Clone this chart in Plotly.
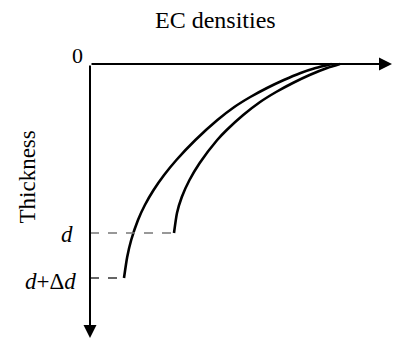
import plotly.graph_objects as go

# EC density (x) vs thickness (y, increasing downward), arbitrary units
curve1_density = [0.340, 0.372, 0.412, 0.480, 0.549, 0.636, 0.741, 0.864, 1.054, 1.274,
                  1.443, 1.603, 1.770, 1.938, 2.106, 2.256, 2.416]
curve1_thick   = [2.14, 1.93, 1.76, 1.56, 1.41, 1.26, 1.11, 0.96, 0.76, 0.56,
                  0.43, 0.33, 0.24, 0.16, 0.09, 0.04, 0.00]
curve2_density = [0.840, 0.870, 0.918, 0.995, 1.097, 1.272, 1.367, 1.532, 1.701, 1.861,
                  2.028, 2.196, 2.371, 2.499]
curve2_thick   = [1.69, 1.49, 1.33, 1.16, 0.99, 0.76, 0.66, 0.51, 0.38, 0.28,
                  0.19, 0.11, 0.04, 0.00]
d_level = 1.69
dd_level = 2.14
x_end = 3.02
y_end = 2.74

fig = go.Figure()
for xs, ys in [(curve1_density, curve1_thick), (curve2_density, curve2_thick)]:
    fig.add_trace(go.Scatter(x=xs, y=ys, mode="lines",
                             line=dict(color="black", width=2.6, shape="spline", smoothing=0.6),
                             hoverinfo="skip"))
# dashed guides
fig.add_trace(go.Scatter(x=[0, curve2_density[0]], y=[d_level, d_level], mode="lines",
                         line=dict(color="#777777", width=1.3, dash="dash"), hoverinfo="skip"))
fig.add_trace(go.Scatter(x=[0, curve1_density[0]], y=[dd_level, dd_level], mode="lines",
                         line=dict(color="#333333", width=1.3, dash="dash"), hoverinfo="skip"))

font = dict(family="Liberation Serif", color="black")
ann = [
    dict(x=x_end, y=0, ax=0, ay=0, xref="x", yref="y", axref="x", ayref="y",
         showarrow=True, arrowhead=2, arrowsize=1.3, arrowwidth=2, arrowcolor="black", text="",
         standoff=0, startstandoff=0),
    dict(x=0, y=y_end, ax=0, ay=0, xref="x", yref="y", axref="x", ayref="y",
         showarrow=True, arrowhead=2, arrowsize=1.3, arrowwidth=2, arrowcolor="black", text="",
         standoff=0, startstandoff=0),
    dict(x=1.25, y=-0.44, xref="x", yref="y", text="EC densities",
         showarrow=False, xanchor="center", yanchor="middle", font=dict(size=24, **font)),
    dict(x=-0.125, y=-0.085, xref="x", yref="y", text="0", showarrow=False,
         xanchor="center", yanchor="middle", font=dict(size=22, **font)),
    dict(x=-0.635, y=1.13, xref="x", yref="y", text="Thickness", showarrow=False, textangle=-90,
         xanchor="center", yanchor="middle", font=dict(size=23, **font)),
    dict(x=-0.15, y=1.70, xref="x", yref="y", text="<i>d</i>", showarrow=False,
         xanchor="right", yanchor="middle", font=dict(size=23, **font)),
    dict(x=-0.12, y=2.17, xref="x", yref="y", text="<i>d</i>+Δ<i>d</i>", showarrow=False,
         xanchor="right", yanchor="middle", font=dict(size=23, **font)),
]

fig.update_layout(
    width=395, height=341, margin=dict(l=0, r=0, t=0, b=0),
    plot_bgcolor="white", paper_bgcolor="white", showlegend=False,
    xaxis=dict(range=[-0.9, 3.05], visible=False, fixedrange=True),
    yaxis=dict(range=[2.77, -0.64], visible=False, fixedrange=True),
    annotations=ann,
)
fig.write_html("out.html")
